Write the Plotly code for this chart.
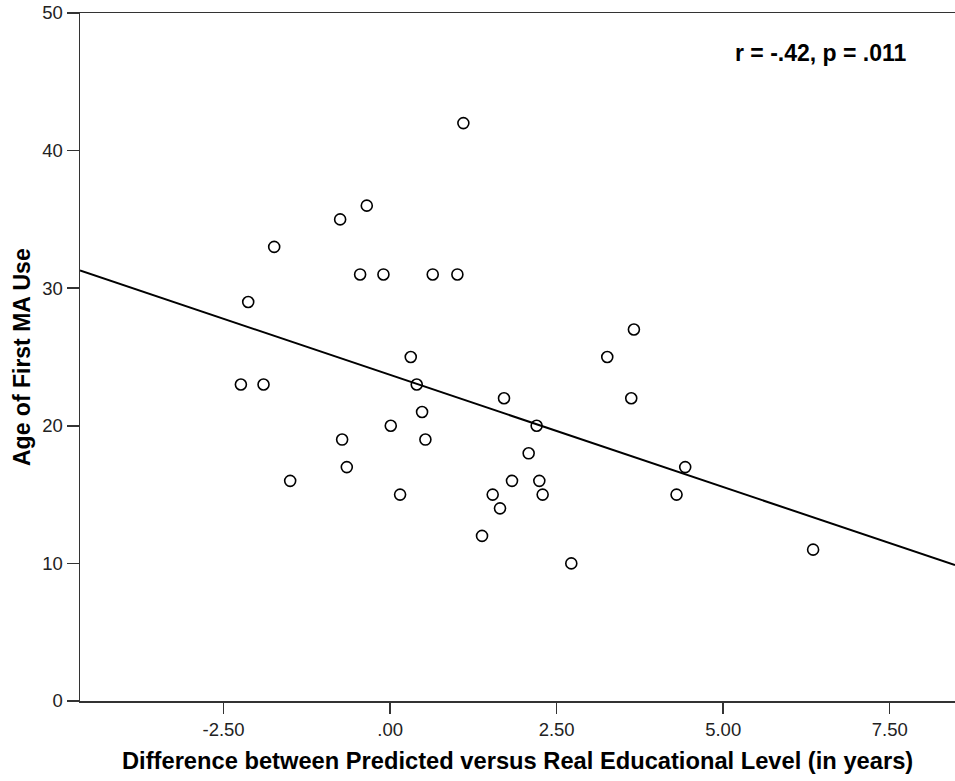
import plotly.graph_objects as go

# Data
diff_years = [1.10, -0.35, -0.75, -1.74, -0.45, -0.10, 0.64, 1.01, -2.13, 3.66,
              3.26, 0.31, -2.24, -1.90, 0.40, 3.62, 1.71, 0.48, 0.01, 2.20,
              -0.72, 0.53, 2.08, -0.65, 4.43, -1.50, 1.83, 2.24, 0.15, 1.54,
              2.29, 4.30, 1.65, 1.38, 2.72, 6.35]
age_first_use = [42, 36, 35, 33, 31, 31, 31, 31, 29, 27,
                 25, 25, 23, 23, 23, 22, 22, 21, 20, 20,
                 19, 19, 18, 17, 17, 16, 16, 16, 15, 15,
                 15, 15, 14, 12, 10, 11]

fit_intercept = 23.7
fit_slope = -1.63

x_range = [-4.655, 8.48]
y_range = [0, 50]
x_tickvals = [-2.5, 0, 2.5, 5, 7.5]
x_ticktext = ["-2.50", ".00", "2.50", "5.00", "7.50"]
y_tickvals = [0, 10, 20, 30, 40, 50]
y_ticktext = ["0", "10", "20", "30", "40", "50"]

stat_label = "r = -.42, p = .011"
x_title = "Difference between Predicted versus Real Educational Level (in years)"
y_title = "Age of First MA Use"

line_x = x_range
line_y = [fit_intercept + fit_slope * v for v in line_x]

fig = go.Figure()
fig.add_trace(go.Scatter(
    x=line_x, y=line_y, mode="lines",
    line=dict(color="black", width=2), hoverinfo="skip", showlegend=False))
fig.add_trace(go.Scatter(
    x=diff_years, y=age_first_use, mode="markers",
    marker=dict(symbol="circle-open", size=11, color="black",
                line=dict(color="black", width=1.6)),
    showlegend=False))

font_family = "Liberation Sans, Arial, sans-serif"
tick_size = 18.5

fig.update_layout(
    width=955, height=781,
    margin=dict(l=80, r=0, t=13, b=80),
    paper_bgcolor="white", plot_bgcolor="white",
    font=dict(family=font_family, color="black"),
    xaxis=dict(range=x_range, tickvals=x_tickvals, ticktext=x_ticktext,
               showgrid=False, zeroline=False, showline=True, mirror=True,
               linecolor="#333333", linewidth=1.5,
               ticks="outside", ticklen=11, tickwidth=1.5, tickcolor="#333333",
               tickfont=dict(size=tick_size, color="#222222", family=font_family),
               automargin=False),
    yaxis=dict(range=y_range, tickvals=y_tickvals, ticktext=y_ticktext,
               showgrid=False, zeroline=False, showline=True, mirror=False,
               linecolor="#333333", linewidth=1.5,
               ticks="outside", ticklen=12, tickwidth=1.5, tickcolor="#333333",
               tickfont=dict(size=tick_size, color="#222222", family=font_family),
               automargin=False),
    annotations=[
        dict(text="<b>%s</b>" % stat_label, x=6.47, y=47.1, xref="x", yref="y",
             showarrow=False, xanchor="center", yanchor="middle",
             font=dict(size=23, color="black", family=font_family)),
        dict(text="<b>%s</b>" % x_title, x=0.5, y=(701 - 761) / 688,
             xref="paper", yref="paper", showarrow=False,
             xanchor="center", yanchor="middle",
             font=dict(size=23.7, color="black", family=font_family)),
        dict(text="<b>%s</b>" % y_title, x=(22 - 80) / 875, y=0.5,
             xref="paper", yref="paper", showarrow=False, textangle=-90,
             xanchor="center", yanchor="middle",
             font=dict(size=23, color="black", family=font_family)),
    ],
)

# Remove the default page margin so the figure fills the window exactly.
page_fix = ("document.documentElement.style.margin='0';"
            "document.body.style.margin='0';"
            "document.documentElement.style.overflow='hidden';"
            "document.body.style.overflow='hidden';")

fig.write_html("out.html", post_script=page_fix,
               config={"displayModeBar": False, "staticPlot": True})
